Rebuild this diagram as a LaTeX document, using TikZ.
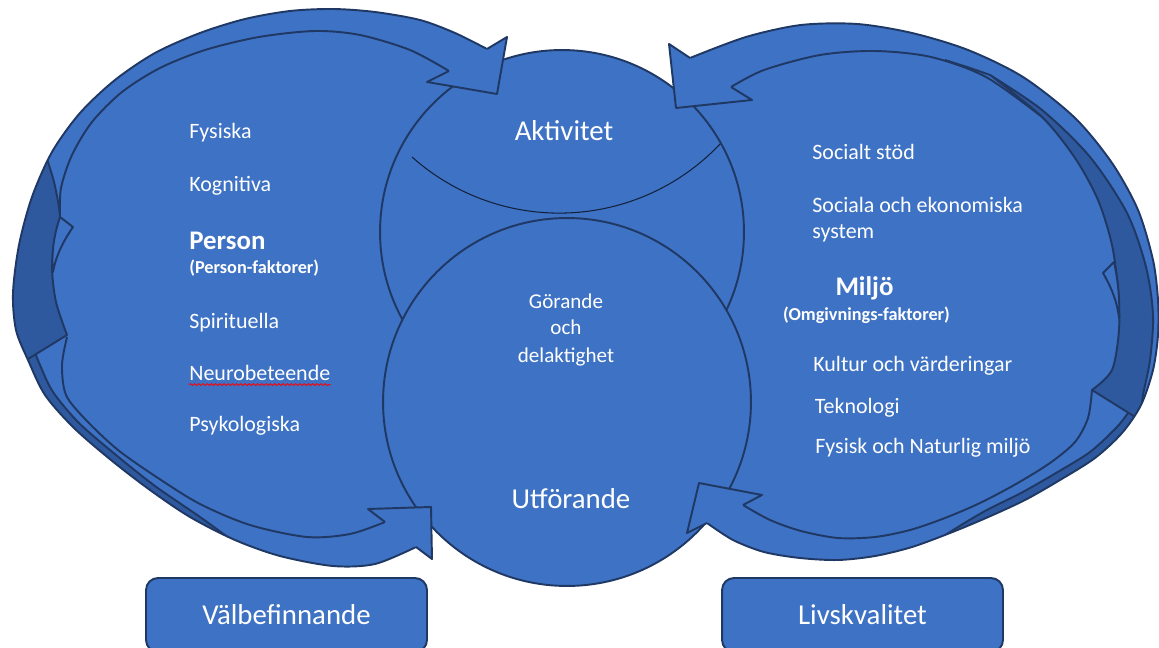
\documentclass[tikz,border=0pt]{standalone}
\usepackage{fontspec}
\setmainfont{Carlito}
\usetikzlibrary{decorations.pathmorphing}
\definecolor{peopblue}{RGB}{62,114,196}
\definecolor{peopdark}{RGB}{46,89,158}
\definecolor{peopline}{RGB}{32,56,100}

\begin{document}
\begin{tikzpicture}[x=0.02cm,y=-0.02cm,
 ln/.style={draw=peopline,line width=1.1pt,line join=round},
 dk/.style={ln,fill=peopdark},
 hdarr/.style={ln,fill=peopblue},
 ring/.style={circle,ln,fill=peopblue,inner sep=0pt},
 itm/.style={anchor=base west,text=white,inner sep=0pt,font=\fontsize{12.5}{15}\selectfont},
 ttl/.style={anchor=base,text=white,inner sep=0pt,font=\fontsize{16.4}{19}\selectfont},
 mid/.style={anchor=base,text=white,inner sep=0pt,font=\fontsize{12}{14}\selectfont},
 hd/.style={text=white,inner sep=0pt,font=\bfseries\fontsize{15.3}{18}\selectfont},
 sub/.style={text=white,inner sep=0pt,font=\bfseries\fontsize{10.4}{12}\selectfont},
 lbox/.style={ln,fill=peopblue,rounded corners=0.24cm,minimum width=5.62cm,minimum height=1.48cm,
  text=white,font=\fontsize{16.4}{19}\selectfont}]
\useasboundingbox (0,0) rectangle (1159,648);

\fill[peopblue] plot[smooth] coordinates {(487,49) (455,33) (420,20) (375,12) (333,9) (290,11) (245,19) (200,33) (155,53) (115,80) (80,113) (52,152) (32,197) (19,245) (13,293) (16,330) (28,360) (45,395) (74,428) (111,460) (150,490) (190,517) (235,540) (280,556) (333,566) (375,564) (416,547)} -- (425,515) -- (480,480) -- (480,100) -- cycle;
\fill[peopblue] plot[smooth] coordinates {(690,58) (746,37) (801,25) (857,24) (912,33) (968,50) (1023,77) (1075,118) (1112,163) (1138,210) (1153,260) (1158,300) (1158,335) (1153,370) (1141,405) (1122,433) (1095,458) (1060,480) (1025,500) (986,518) (950,533) (912,547) (875,556) (838,560) (800,558) (764,552) (733,540) (707,523)} -- (700,500) -- (660,480) -- (660,120) -- cycle;

% Person side
\draw[ln] plot[smooth] coordinates {(449,71) (410,50) (360,35) (315,31) (259,37) (205,50) (160,68) (122,92) (92,122) (72,155) (61,188) (60,217)};
\begin{scope}
\clip plot[smooth] coordinates {(487,49) (455,33) (420,20) (375,12) (333,9) (290,11) (245,19) (200,33) (155,53) (115,80) (80,113) (52,152) (32,197) (19,245) (13,293) (16,330) (28,360) (45,395) (74,428) (111,460) (150,490) (190,517) (235,540) (280,556) (333,566) (375,564) (416,547)} -- (425,515) -- (480,480) -- (480,100) -- cycle;
\draw[dk] plot[smooth] coordinates {(30,340) (40,365) (53,392) (79,423) (116,455) (155,486) (200,517) (240,546)} -- (240,600) -- (-5,600) -- (-5,340) -- cycle;
\draw[ln] plot[smooth] coordinates {(67,337) (62,365) (66,395) (86,420) (118,450) (158,478) (200,504) (250,525) (307,537) (350,534) (385,522)};
\draw[dk] plot[smooth] coordinates {(44,150) (54,182) (60,217) (55,238) (52,268) (56,302) (67,335)} -- (15,367) -- (-5,367) -- (-5,150) -- cycle;
\draw[hdarr] (60,217) -- (73,227) .. controls (64,240) and (56,255) .. (53,272) .. controls (51,250) and (55,232) .. cycle;
\end{scope}
\draw[ln] plot[smooth] coordinates {(487,49) (455,33) (420,20) (375,12) (333,9) (290,11) (245,19) (200,33) (155,53) (115,80) (80,113) (52,152) (32,197) (19,245) (13,293) (16,330) (28,360) (45,395) (74,428) (111,460) (150,490) (190,517) (235,540) (280,556) (333,566) (375,564) (416,547)};

% Miljo side
\draw[ln] plot[smooth] coordinates {(731,87) (764,70) (820,55) (875,51) (931,57) (986,77) (1042,117)};
\begin{scope}
\clip plot[smooth] coordinates {(690,58) (746,37) (801,25) (857,24) (912,33) (968,50) (1023,77) (1075,118) (1112,163) (1138,210) (1153,260) (1158,300) (1158,335) (1153,370) (1141,405) (1122,433) (1095,458) (1060,480) (1025,500) (986,518) (950,533) (912,547) (875,556) (838,560) (800,558) (764,552) (733,540) (707,523)} -- (700,500) -- (660,480) -- (660,120) -- cycle;
\draw[dk] plot[smooth] coordinates {(1136,400) (1128,413) (1116,428) (1090,452) (1056,473) (1021,493) (985,511) (950,532) (920,552)} -- (920,600) -- (1170,600) -- (1170,400) -- cycle;
\draw[ln] plot[smooth] coordinates {(1092,390) (1088,418) (1075,442) (1050,463) (1016,484) (980,503) (945,518) (910,530) (875,537) (838,538) (801,531) (770,520) (743,505)};
\draw[dk] plot[smooth] coordinates {(990,75) (1042,110) (1090,157) (1127,213) (1146,267) (1153,315) (1150,360) (1143,395) (1140,420)} -- plot[smooth] coordinates {(1092,390) (1112,370) (1119,330) (1118,290) (1112,245) (1098,200) (1075,158) (1042,117) (990,75)} -- cycle;
\draw[ln] plot[smooth] coordinates {(945,60) (970,68) (990,75)};
\draw[hdarr] (1114,262) -- (1103,273) .. controls (1110,285) and (1117,300) .. (1119,318) .. controls (1120,300) and (1118,280) .. cycle;
\end{scope}
\draw[ln] plot[smooth] coordinates {(690,58) (746,37) (801,25) (857,24) (912,33) (968,50) (1023,77) (1075,118) (1112,163) (1138,210) (1153,260) (1158,300) (1158,335) (1153,370) (1141,405) (1122,433) (1095,458) (1060,480) (1025,500) (986,518) (950,533) (912,547) (875,556) (838,560) (800,558) (764,552) (733,540) (707,523)};

% circles
\node[ring,minimum size=7.28cm] (akt) at (562,232) {};
\node[ring,minimum size=7.36cm] (utf) at (567,402) {};
\draw[peopline!60!black,line width=0.6pt] (412,157) arc[start angle=131.7,end angle=43.4,radius=221.5];

\draw[hdarr] (449,71) -- (427,82) -- (497,94) -- (507,37) -- (487,49);
\draw[hdarr] (385,522) -- (368,509) -- (431,507) -- (432,559) -- (416,547);
\draw[hdarr] (731,87) -- (752,100) -- (676,108) -- (669,44) -- (690,58);
\draw[hdarr] (743,505) -- (762,495) -- (699,483) -- (687,533) -- (707,523);

\node[itm] (fys) at (189,139) {Fysiska};
\node[itm] (kog) at (189,192) {Kognitiva};
\node[hd,anchor=base west] (pers) at (189,250) {Person};
\node[sub,anchor=base west] (persf) at (189,274) {(Person-faktorer)};
\node[itm] (spir) at (189,329) {Spirituella};
\node[itm] (neuro) at (189,380) {Neurobeteende};
\node[itm] (psyk) at (189,431) {Psykologiska};
\draw[red,line width=0.5pt,decorate,decoration={snake,amplitude=0.5pt,segment length=2.4pt}]
 ([yshift=-2.6pt]neuro.base west) -- ([yshift=-2.6pt]neuro.base east);

\node[itm] (soc) at (812,160) {Socialt stöd};
\node[itm] (socek) at (812,213) {Sociala och ekonomiska};
\node[itm] (sys) at (812,239) {system};
\node[hd,anchor=base] (milj) at (864.5,296) {Miljö};
\node[sub,anchor=base] (miljf) at (866.5,320) {(Omgivnings-faktorer)};
\node[itm] (kult) at (813,372) {Kultur och värderingar};
\node[itm] (tekn) at (814.5,413) {Teknologi};
\node[itm] (fysn) at (815,453) {Fysisk och Naturlig miljö};

\node[ttl] (akttxt) at (564,141) {Aktivitet};
\node[mid] (gor) at (566,309) {Görande};
\node[mid] (och) at (566,335) {och};
\node[mid] (del) at (566,362) {delaktighet};
\node[ttl] (utftxt) at (571,508) {Utförande};

\node[lbox] (valb) at (286.5,615) {Välbefinnande};
\node[lbox] (livs) at (862.5,615) {Livskvalitet};
\end{tikzpicture}
\end{document}
